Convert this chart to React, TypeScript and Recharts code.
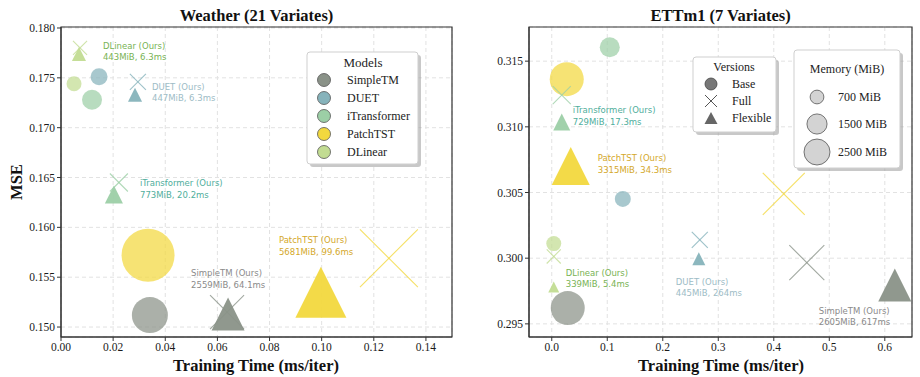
import { ScatterChart, Scatter, XAxis, YAxis, CartesianGrid, ReferenceArea } from 'recharts';

// model order used by every array below
const models = ['SimpleTM', 'DUET', 'iTransformer', 'PatchTST', 'DLinear'];
const modelColors = ['#8a9288', '#86b3bb', '#9ccfa6', '#f2d83e', '#c2dc92'];
const labelColors = ['#8a8a8a', '#9dbcc6', '#4fae9c', '#d4a82a', '#78b354'];

// Weather (21 variates)
const weatherBaseTime = [0.0341, 0.0146, 0.0119, 0.0334, 0.005];
const weatherBaseMse = [0.1512, 0.1751, 0.1728, 0.1572, 0.1744];
const weatherBaseMem = [4800, 1070, 1480, 10400, 830];
const weatherFullTime = [0.0637, 0.0295, 0.0222, 0.1258, 0.0073];
const weatherFullMse = [0.1515, 0.1746, 0.1645, 0.1569, 0.178];
const weatherFullMem = [4280, 950, 1200, 12400, 730];
const weatherFlexTime = [0.0641, 0.0284, 0.0203, 0.0997, 0.0069];
const weatherFlexMse = [0.1513, 0.1733, 0.1633, 0.1535, 0.1774];
const weatherFlexMem = [4030, 730, 1200, 9620, 730];
const weatherOursMem = [2559, 447, 773, 5681, 443];
const weatherOursMs = [64.1, 6.3, 20.2, 99.6, 6.3];
const weatherLabelTime = [0.0499, 0.0349, 0.0303, 0.0836, 0.0161];
const weatherLabelMse = [0.1554, 0.1741, 0.1644, 0.1587, 0.1782];

// ETTm1 (7 variates)
const ettBaseTime = [0.0288, 0.128, 0.1045, 0.027, 0.0036];
const ettBaseMse = [0.2962, 0.30451, 0.31606, 0.31363, 0.30111];
const ettBaseMem = [4280, 950, 1480, 4280, 830];
const ettFullTime = [0.4595, 0.2667, 0.018, 0.418, 0.0036];
const ettFullMse = [0.29966, 0.30139, 0.31241, 0.30489, 0.30013];
const ettFullMem = [4530, 950, 1200, 6520, 730];
const ettFlexTime = [0.618, 0.2649, 0.018, 0.0342, 0.0036];
const ettFlexMse = [0.29796, 0.29996, 0.31036, 0.30701, 0.29781];
const ettFlexMem = [4030, 625, 1070, 5340, 450];
const ettOursMem = [2605, 445, 729, 3315, 339];
const ettOursMs = [617, 264, 17.3, 34.3, 5.4];
const ettLabelTime = [0.481, 0.2234, 0.0378, 0.0829, 0.0252];
const ettLabelMse = [0.29599, 0.29819, 0.31127, 0.30762, 0.29888];

const weatherXTicks = [0, 0.02, 0.04, 0.06, 0.08, 0.1, 0.12, 0.14];
const weatherYTicks = [0.15, 0.155, 0.16, 0.165, 0.17, 0.175, 0.18];
const ettXTicks = [0, 0.1, 0.2, 0.3, 0.4, 0.5, 0.6];
const ettYTicks = [0.295, 0.3, 0.305, 0.31, 0.315];

const versions = ['Base', 'Full', 'Flexible'];
const memLegend = [700, 1500, 2500];

const SIZE_K = 0.52; // marker diameter px per sqrt(MiB)
const SERIF = '"Liberation Serif", "Times New Roman", serif';

const toPoints = (t: number[], y: number[], mem: number[]) =>
  t.map((v, i) => ({ x: v, y: y[i], mem: mem[i], model: i }));

const toLabels = (t: number[], y: number[], mem: number[], ms: number[]) =>
  t.map((v, i) => ({ x: v, y: y[i], mem: mem[i], ms: ms[i], model: i }));

const baseShape = (p: any) => {
  const r = (SIZE_K * Math.sqrt(p.payload.mem)) / 2;
  return <circle cx={p.cx} cy={p.cy} r={r} fill={modelColors[p.payload.model]} fillOpacity={0.72} />;
};

const fullShape = (p: any) => {
  const h = (SIZE_K * Math.sqrt(p.payload.mem)) / 2;
  const c = modelColors[p.payload.model];
  return (
    <g stroke={c} strokeOpacity={0.8} strokeWidth={1.1}>
      <line x1={p.cx - h} y1={p.cy - h} x2={p.cx + h} y2={p.cy + h} />
      <line x1={p.cx - h} y1={p.cy + h} x2={p.cx + h} y2={p.cy - h} />
    </g>
  );
};

const flexShape = (p: any) => {
  const h = (SIZE_K * Math.sqrt(p.payload.mem)) / 2;
  const pts = `${p.cx},${p.cy - h} ${p.cx - h},${p.cy + h} ${p.cx + h},${p.cy + h}`;
  return <polygon points={pts} fill={modelColors[p.payload.model]} fillOpacity={0.95} />;
};

const labelShape = (p: any) => {
  const d = p.payload;
  return (
    <text x={p.cx} y={p.cy} fontFamily='"DejaVu Sans", sans-serif' fontSize={8.5} fill={labelColors[d.model]}>
      <tspan x={p.cx} dy="0.35em">{models[d.model]} (Ours)</tspan>
      <tspan x={p.cx} dy={11.5}>{`${d.mem}MiB, ${d.ms}ms`}</tspan>
    </text>
  );
};

function Panel(props: any) {
  const { base, full, flex, labels, xDomain, yDomain, xTicks, yTicks, xDigits, left } = props;
  const tick = { fontFamily: SERIF, fontSize: 11.5, fill: '#1a1a1a' };
  return (
    <ScatterChart width={460} height={377} margin={{ top: 27, right: 8, bottom: 10, left }}>
      <CartesianGrid stroke="#e2e2e2" strokeDasharray="4 3" />
      <XAxis type="number" dataKey="x" domain={xDomain} ticks={xTicks} allowDataOverflow height={30}
        tick={tick} tickSize={4} stroke="#333" tickFormatter={(v: number) => v.toFixed(xDigits)} />
      <YAxis type="number" dataKey="y" domain={yDomain} ticks={yTicks} allowDataOverflow width={45}
        tick={tick} tickSize={4} stroke="#333" tickFormatter={(v: number) => v.toFixed(3)} />
      <ReferenceArea x1={xDomain[0]} x2={xDomain[1]} y1={yDomain[0]} y2={yDomain[1]}
        fill="none" stroke="#333" strokeWidth={1.2} ifOverflow="visible" />
      <Scatter data={base} shape={baseShape} isAnimationActive={false} />
      <Scatter data={full} shape={fullShape} isAnimationActive={false} />
      <Scatter data={flex} shape={flexShape} isAnimationActive={false} />
      <Scatter data={labels} shape={labelShape} isAnimationActive={false} />
    </ScatterChart>
  );
}

function LegendBox({ x, y, w, h }: any) {
  return (
    <g>
      <rect x={x + 3} y={y + 3} width={w} height={h} rx={3} fill="#9a9a9a" fillOpacity={0.55} />
      <rect x={x} y={y} width={w} height={h} rx={3} fill="#fff" stroke="#cfcfcf" />
    </g>
  );
}

function Overlay() {
  const bold = { fontFamily: SERIF, fontWeight: 700 as const, fill: '#111' };
  const txt = { fontFamily: SERIF, fontSize: 12, fill: '#222' };
  return (
    <svg width={920} height={377} style={{ position: 'absolute', left: 0, top: 0, pointerEvents: 'none' }}>
      <text x={256.5} y={21} textAnchor="middle" fontSize={16.5} {...bold}>Weather (21 Variates)</text>
      <text x={720.5} y={21} textAnchor="middle" fontSize={16.5} {...bold}>ETTm1 (7 Variates)</text>
      <text x={256} y={371} textAnchor="middle" fontSize={16.5} {...bold}>Training Time (ms/iter)</text>
      <text x={721} y={371} textAnchor="middle" fontSize={16.5} {...bold}>Training Time (ms/iter)</text>
      <text x={22} y={182} textAnchor="middle" fontSize={16.5} transform="rotate(-90 22 182)" {...bold}>MSE</text>

      <LegendBox x={307} y={52} w={111} h={112} />
      <text x={363} y={67} textAnchor="middle" {...txt} fontSize={13}>Models</text>
      {models.map((m, i) => (
        <g key={m}>
          <circle cx={324} cy={80 + 18 * i} r={6.5} fill={modelColors[i]} stroke="#555" strokeWidth={0.8} />
          <text x={347} y={84 + 18 * i} {...txt}>{m}</text>
        </g>
      ))}

      <LegendBox x={693} y={57} w={83} h={75} />
      <text x={734} y={71} textAnchor="middle" {...txt}>Versions</text>
      {versions.map((v, i) => {
        const cy = 84 + 17 * i;
        return (
          <g key={v}>
            {i === 0 && <circle cx={711} cy={cy} r={6} fill="#777" stroke="#444" strokeWidth={0.8} />}
            {i === 1 && (
              <g stroke="#555" strokeWidth={1}>
                <line x1={705} y1={cy - 6} x2={717} y2={cy + 6} />
                <line x1={705} y1={cy + 6} x2={717} y2={cy - 6} />
              </g>
            )}
            {i === 2 && <polygon points={`711,${cy - 6} 704.5,${cy + 6} 717.5,${cy + 6}`} fill="#666" />}
            <text x={732} y={cy + 4} {...txt}>{v}</text>
          </g>
        );
      })}

      <LegendBox x={794} y={50} w={106} h={118} />
      <text x={847} y={73} textAnchor="middle" {...txt}>Memory (MiB)</text>
      {memLegend.map((m, i) => {
        const cy = [97, 124, 152][i];
        return (
          <g key={m}>
            <circle cx={817} cy={cy} r={(SIZE_K * Math.sqrt(m)) / 2} fill="#d3d3d3" stroke="#555" strokeWidth={0.8} />
            <text x={838} y={cy + 4} {...txt}>{`${m} MiB`}</text>
          </g>
        );
      })}
    </svg>
  );
}

export default function App() {
  return (
    <div style={{ position: 'absolute', left: 0, top: 0, width: 920, height: 377, background: '#fff' }}>
      <div style={{ position: 'absolute', left: 0, top: 0 }}>
        <Panel
          base={toPoints(weatherBaseTime, weatherBaseMse, weatherBaseMem)}
          full={toPoints(weatherFullTime, weatherFullMse, weatherFullMem)}
          flex={toPoints(weatherFlexTime, weatherFlexMse, weatherFlexMem)}
          labels={toLabels(weatherLabelTime, weatherLabelMse, weatherOursMem, weatherOursMs)}
          xDomain={[0, 0.15]} yDomain={[0.149, 0.1801]}
          xTicks={weatherXTicks} yTicks={weatherYTicks} xDigits={2} left={16}
        />
      </div>
      <div style={{ position: 'absolute', left: 460, top: 0 }}>
        <Panel
          base={toPoints(ettBaseTime, ettBaseMse, ettBaseMem)}
          full={toPoints(ettFullTime, ettFullMse, ettFullMem)}
          flex={toPoints(ettFlexTime, ettFlexMse, ettFlexMem)}
          labels={toLabels(ettLabelTime, ettLabelMse, ettOursMem, ettOursMs)}
          xDomain={[-0.041, 0.649]} yDomain={[0.294, 0.3176]}
          xTicks={ettXTicks} yTicks={ettYTicks} xDigits={1} left={24}
        />
      </div>
      <Overlay />
    </div>
  );
}
